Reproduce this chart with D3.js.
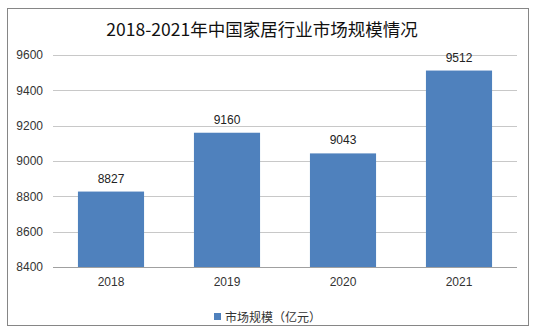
<!DOCTYPE html>
<html><head><meta charset="utf-8">
<script src="https://cdn.jsdelivr.net/npm/d3@7"></script>
<style>body{margin:0;background:#fff;}</style>
</head><body>
<svg id="c" width="536" height="333"></svg>
<script>
const categories = ["2018", "2019", "2020", "2021"];
const values = [8827, 9160, 9043, 9512];
const yTicks = [8400, 8600, 8800, 9000, 9200, 9400, 9600];
const title = "2018-2021年中国家居行业市场规模情况";
const seriesName = "市场规模（亿元）";

const svg = d3.select("#c");
const numFont = "'Liberation Sans', 'DejaVu Sans', sans-serif";
const cjkFont = "'Noto Sans CJK SC', sans-serif";

svg.append("rect").attr("x", 7.5).attr("y", 8.5).attr("width", 521).attr("height", 317)
  .attr("fill", "#fff").attr("stroke", "#868686").attr("stroke-width", 1);

const x = d3.scaleBand().domain(categories).range([53, 517]).paddingInner(0.43).paddingOuter(0.215);
const y = d3.scaleLinear().domain([8400, 9600]).range([267, 55]);

// gridlines
svg.append("g").selectAll("line").data(yTicks).join("line")
  .attr("x1", 53).attr("x2", 517)
  .attr("y1", d => Math.round(y(d)) + 0.5).attr("y2", d => Math.round(y(d)) + 0.5)
  .attr("stroke", d => d === 8400 ? "#a0a0a0" : "#c8c8c8").attr("stroke-width", 1);

// y axis labels
const yAxis = d3.axisLeft(y).tickValues(yTicks).tickSize(0).tickPadding(0).tickFormat(d3.format("d"));
const ya = svg.append("g").attr("transform", "translate(43,0)").call(yAxis);
ya.select(".domain").remove();
ya.selectAll("text").attr("font-family", numFont).attr("font-size", 12).attr("fill", "#333");

// bars
svg.append("g").selectAll("rect").data(values).join("rect")
  .attr("x", (d, i) => x(categories[i]))
  .attr("width", x.bandwidth())
  .attr("y", d => y(d))
  .attr("height", d => y(8400) - y(d))
  .attr("fill", "#4f81bd");

// value labels
svg.append("g").selectAll("text").data(values).join("text")
  .attr("x", (d, i) => x(categories[i]) + x.bandwidth() / 2)
  .attr("y", d => y(d) - 9)
  .attr("text-anchor", "middle")
  .attr("font-family", numFont).attr("font-size", 12).attr("fill", "#222")
  .text(d => d);

// x axis labels
const xAxis = d3.axisBottom(x).tickSize(0).tickPadding(10);
const xa = svg.append("g").attr("transform", "translate(0,267)").call(xAxis);
xa.select(".domain").remove();
xa.selectAll("text").attr("font-family", numFont).attr("font-size", 12).attr("fill", "#333");

// title
svg.append("text").attr("x", 262).attr("y", 36).attr("text-anchor", "middle")
  .attr("font-family", cjkFont).attr("font-size", 17.5).attr("fill", "#111")
  .text(title);

// legend
svg.append("rect").attr("x", 214).attr("y", 313).attr("width", 7).attr("height", 7).attr("fill", "#4f81bd");
svg.append("text").attr("x", 225).attr("y", 321.5)
  .attr("font-family", cjkFont).attr("font-size", 12).attr("fill", "#333")
  .text(seriesName);
</script>
</body></html>
